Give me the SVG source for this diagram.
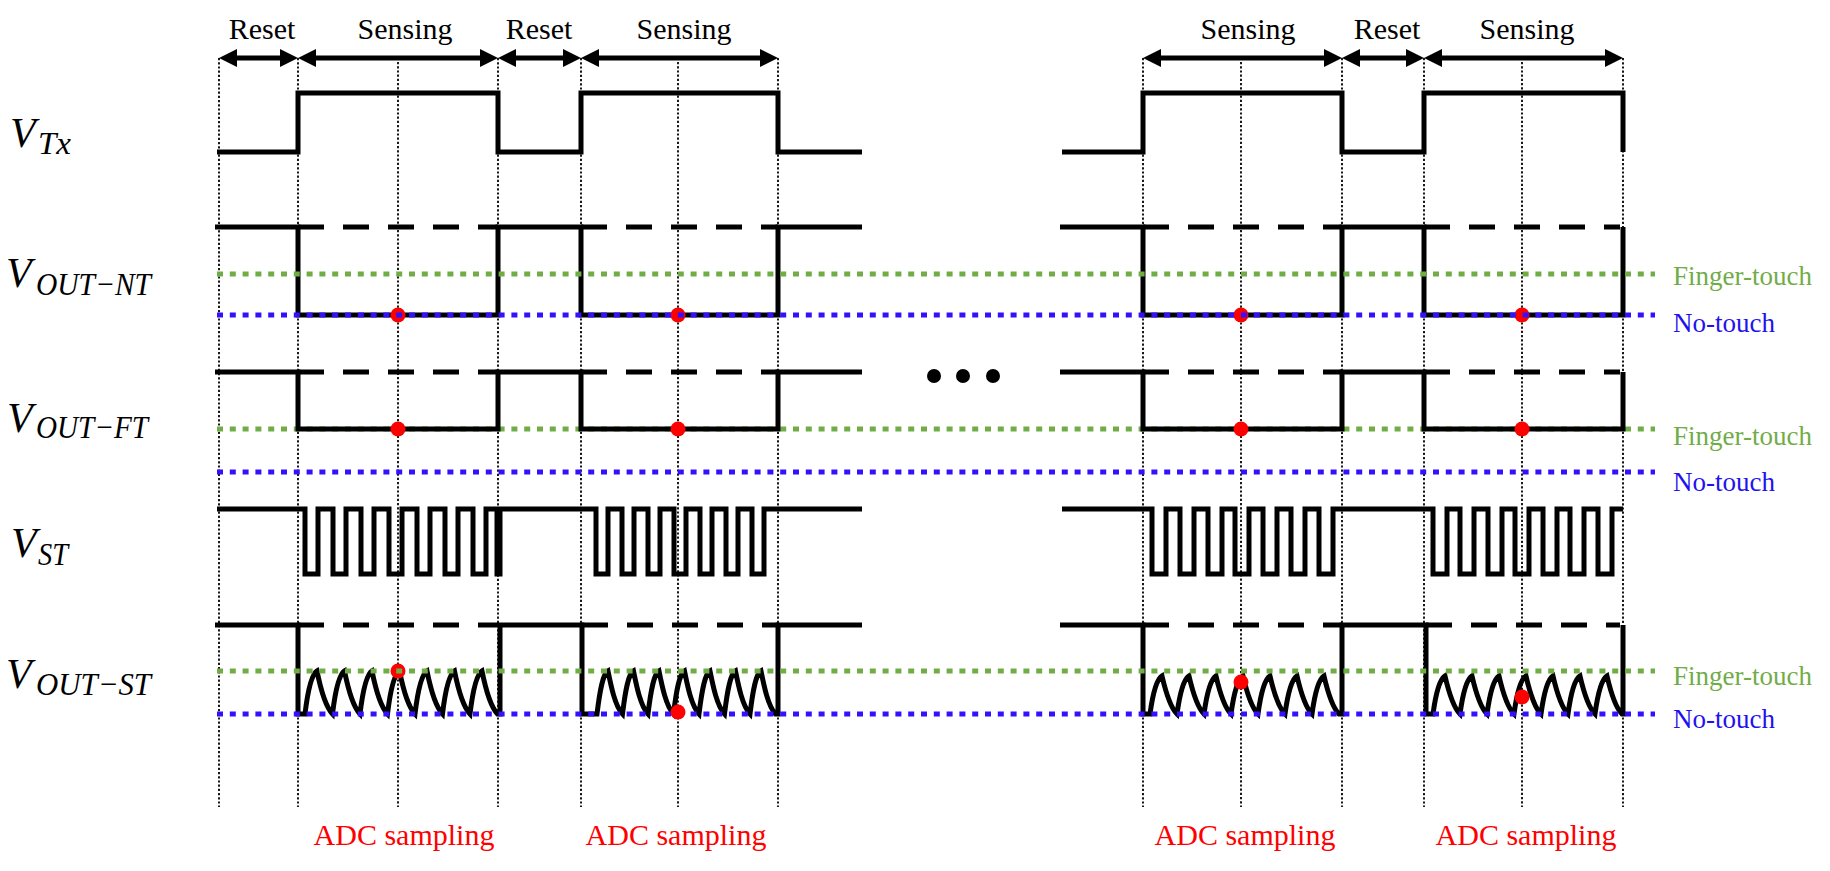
<svg xmlns="http://www.w3.org/2000/svg" xmlns:xlink="http://www.w3.org/1999/xlink" width="1830" height="871" viewBox="0 0 1830 871">
<style>
.bg{fill:#ffffff}
.guide{fill:none;stroke:#000;stroke-width:1.8;stroke-dasharray:2.2 2}
.wave{fill:none;stroke:#000;stroke-width:5;stroke-linejoin:miter;stroke-linecap:butt}
.dash{fill:none;stroke:#000;stroke-width:5;stroke-dasharray:26 19}
.ft{fill:none;stroke:#70AD47;stroke-width:5;stroke-dasharray:6 6.8}
.nt{fill:none;stroke:#3311FF;stroke-width:5;stroke-dasharray:6 6.8}
.dot{fill:#FF0000}
.hdr{font-family:"Liberation Serif","Times New Roman",serif;font-size:30px;fill:#000;text-anchor:middle}
.adc{font-family:"Liberation Serif","Times New Roman",serif;font-size:30px;fill:#FF0000;text-anchor:middle}
.lgf{font-family:"Liberation Serif","Times New Roman",serif;font-size:27px;fill:#70AD47}
.lgn{font-family:"Liberation Serif","Times New Roman",serif;font-size:27px;fill:#2211EE}
.sig{font-family:"Liberation Serif","Times New Roman",serif;font-style:italic;fill:#000}
.arr{fill:none;stroke:#000;stroke-width:5}
</style>
<defs>
<path id="ahR" d="M0,0 L-18,-9 L-18,9 Z" fill="#000"/>
<path id="ahL" d="M0,0 L18,-9 L18,9 Z" fill="#000"/>
</defs>
<rect class="bg" x="0" y="0" width="1830" height="871"/>

<g id="guides">
<path class="guide" d="M219,58V807 M298,58V807 M398,62V807 M498,58V807 M581,58V807 M678,62V807 M778,58V807 M1143,58V807 M1241,62V807 M1342,58V807 M1424,58V807 M1522,62V807 M1623,58V807"/>
</g>

<g id="header">
<path class="arr" d="M230,58H287 M309,58H487 M509,58H570 M592,58H767 M1154,58H1331 M1353,58H1413 M1435,58H1612"/>
<use xlink:href="#ahL" x="219" y="58"/><use xlink:href="#ahR" x="298" y="58"/>
<use xlink:href="#ahL" x="298" y="58"/><use xlink:href="#ahR" x="498" y="58"/>
<use xlink:href="#ahL" x="498" y="58"/><use xlink:href="#ahR" x="581" y="58"/>
<use xlink:href="#ahL" x="581" y="58"/><use xlink:href="#ahR" x="778" y="58"/>
<use xlink:href="#ahL" x="1143" y="58"/><use xlink:href="#ahR" x="1342" y="58"/>
<use xlink:href="#ahL" x="1342" y="58"/><use xlink:href="#ahR" x="1424" y="58"/>
<use xlink:href="#ahL" x="1424" y="58"/><use xlink:href="#ahR" x="1623" y="58"/>
<text class="hdr" x="262" y="39">Reset</text>
<text class="hdr" x="405" y="39">Sensing</text>
<text class="hdr" x="539" y="39">Reset</text>
<text class="hdr" x="684" y="39">Sensing</text>
<text class="hdr" x="1248" y="39">Sensing</text>
<text class="hdr" x="1387" y="39">Reset</text>
<text class="hdr" x="1527" y="39">Sensing</text>
</g>

<g id="labels">
<text class="sig" x="10" y="147" font-size="42">V</text><text class="sig" x="38" y="154" font-size="32" textLength="33" lengthAdjust="spacingAndGlyphs">Tx</text>
<text class="sig" x="6" y="287" font-size="42">V</text><text class="sig" x="36" y="295" font-size="32" textLength="115" lengthAdjust="spacingAndGlyphs">OUT−NT</text>
<text class="sig" x="7" y="432" font-size="42">V</text><text class="sig" x="36" y="438" font-size="32" textLength="112" lengthAdjust="spacingAndGlyphs">OUT−FT</text>
<text class="sig" x="11" y="557" font-size="42">V</text><text class="sig" x="38" y="565" font-size="32" textLength="30" lengthAdjust="spacingAndGlyphs">ST</text>
<text class="sig" x="6" y="688" font-size="42">V</text><text class="sig" x="36" y="695" font-size="32" textLength="115" lengthAdjust="spacingAndGlyphs">OUT−ST</text>
</g>

<g id="row-vtx">
<path class="wave" d="M217,152H298V93H498V152H581V93H778V152H862"/>
<path class="wave" d="M1062,152H1143V93H1342V152H1424V93H1623V152"/>
</g>

<g id="row-vout-nt">
<path class="wave" d="M215,227H298V315H498V227H581V315H778V227H862"/>
<path class="wave" d="M1060,227H1143V315H1342V227H1424V315H1623V227"/>
<path class="dash" d="M298,227H498 M581,227H778 M1143,227H1342 M1424,227H1620"/>
<circle class="dot" cx="398" cy="315" r="7.5"/>
<circle class="dot" cx="678" cy="315" r="7.5"/>
<circle class="dot" cx="1241" cy="315" r="7.5"/>
<circle class="dot" cx="1522" cy="315" r="7.5"/>
<path class="ft" d="M217,274H1655"/>
<path class="nt" d="M217,315H1655"/>
<text class="lgf" x="1673" y="285">Finger-touch</text>
<text class="lgn" x="1673" y="332">No-touch</text>
</g>

<g id="row-vout-ft">
<path class="ft" d="M217,429H1655"/>
<path class="nt" d="M217,472H1655"/>
<path class="wave" d="M215,372H298V429H498V372H581V429H778V372H862"/>
<path class="wave" d="M1060,372H1143V429H1342V372H1424V429H1623V372"/>
<path class="dash" d="M298,372H498 M581,372H778 M1143,372H1342 M1424,372H1620"/>
<circle class="dot" cx="398" cy="429" r="7.5"/>
<circle class="dot" cx="678" cy="429" r="7.5"/>
<circle class="dot" cx="1241" cy="429" r="7.5"/>
<circle class="dot" cx="1522" cy="429" r="7.5"/>
<text class="lgf" x="1673" y="445">Finger-touch</text>
<text class="lgn" x="1673" y="491">No-touch</text>
</g>

<g id="ellipsis">
<circle cx="934" cy="376" r="7" fill="#000"/>
<circle cx="963" cy="376" r="7" fill="#000"/>
<circle cx="993" cy="376" r="7" fill="#000"/>
</g>

<g id="row-vst">
<path class="wave" d="M217,509H305V574H318V509H333V574H346V509H361V574H374V509H389V574H402V509H417V574H430V509H445V574H458V509H473V574H486V509H497V574H500V509H596V574H608V509H622V574H634V509H648V574H660V509H674V574H686V509H700V574H712V509H726V574H738V509H752V574H764V509H862"/>
<path class="wave" d="M1062,509H1152V574H1166V509H1180V574H1194V509H1208V574H1222V509H1235V574H1249V509H1263V574H1277V509H1291V574H1305V509H1319V574H1333V509H1433V574H1447V509H1460V574H1474V509H1488V574H1502V509H1515V574H1529V509H1543V574H1557V509H1570V574H1584V509H1598V574H1612V509H1623"/>
</g>

<g id="row-vout-st">
<path class="wave" d="M215,625H298V714H305c3,-25 7,-40 12,-43c3,15 8,35 15.5,43c3,-25 7,-40 12,-43c3,15 8,35 15.5,43c3,-25 7,-40 12,-43c3,15 8,35 15.5,43c3,-25 7,-40 12,-43c3,15 8,35 15.5,43c3,-25 7,-40 12,-43c3,15 8,35 15.5,43c3,-25 7,-40 12,-43c3,15 8,35 15.5,43c3,-25 7,-40 12,-43c3,15 8,35 15.5,43H500V625H582V714H597c3,-25 6,-40 11,-43c3,15 7,35 14.5,43c3,-25 6,-40 11,-43c3,15 7,35 14.5,43c3,-25 6,-40 11,-43c3,15 7,35 14.5,43c3,-25 6,-40 11,-43c3,15 7,35 14.5,43c3,-25 6,-40 11,-43c3,15 7,35 14.5,43c3,-25 6,-40 11,-43c3,15 7,35 14.5,43c3,-25 6,-40 11,-43c3,15 7,35 14.5,43H778V625H862"/>
<path class="wave" d="M1060,625H1143V714H1150c3,-22 7,-35 12,-38c3,13 8,31 15,38c3,-22 7,-35 12,-38c3,13 8,31 15,38c3,-22 7,-35 12,-38c3,13 8,31 15,38c3,-22 7,-35 12,-38c3,13 8,31 15,38c3,-22 7,-35 12,-38c3,13 8,31 15,38c3,-22 7,-35 12,-38c3,13 8,31 15,38c3,-22 7,-35 12,-38c3,13 8,31 15,38H1342V625H1426V714H1433c3,-22 7,-35 12,-38c3,13 8,31 15,38c3,-22 7,-35 12,-38c3,13 8,31 15,38c3,-22 7,-35 12,-38c3,13 8,31 15,38c3,-22 7,-35 12,-38c3,13 8,31 15,38c3,-22 7,-35 12,-38c3,13 8,31 15,38c3,-22 7,-35 12,-38c3,13 8,31 15,38c3,-22 7,-35 12,-38c3,13 8,31 15,38H1623V625"/>
<path class="dash" d="M298,625H498 M582,625H778 M1143,625H1342 M1426,625H1620"/>
<circle class="dot" cx="398" cy="671" r="7.5"/>
<path class="ft" d="M217,671H1655"/>
<path class="nt" d="M217,714H1655"/>
<circle class="dot" cx="678" cy="712" r="7.5"/>
<circle class="dot" cx="1241" cy="682" r="7.5"/>
<circle class="dot" cx="1522" cy="697" r="7.5"/>
<text class="lgf" x="1673" y="685">Finger-touch</text>
<text class="lgn" x="1673" y="728">No-touch</text>
</g>

<g id="adc-labels">
<text class="adc" x="404" y="845">ADC sampling</text>
<text class="adc" x="676" y="845">ADC sampling</text>
<text class="adc" x="1245" y="845">ADC sampling</text>
<text class="adc" x="1526" y="845">ADC sampling</text>
</g>
</svg>
